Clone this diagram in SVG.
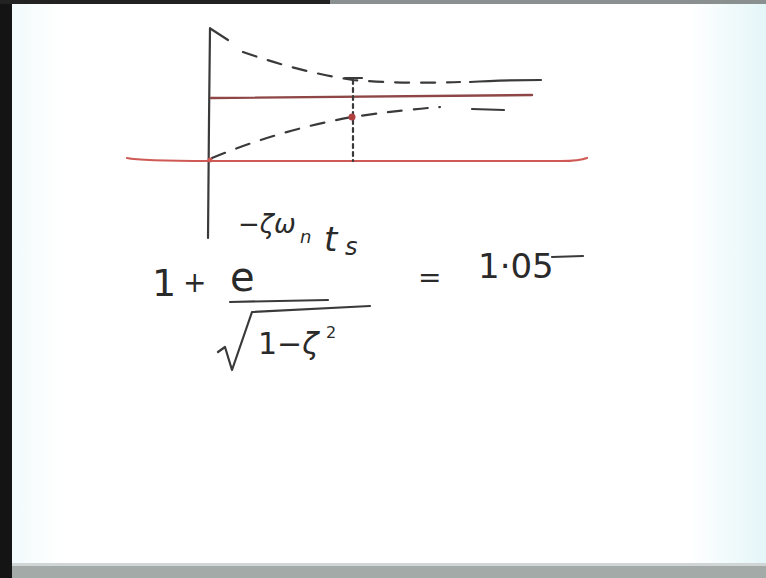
<svg xmlns="http://www.w3.org/2000/svg" width="766" height="578" viewBox="0 0 766 578">
<defs>
<linearGradient id="bg" x1="0" y1="0" x2="1" y2="0">
<stop offset="0" stop-color="#eef9fa"/>
<stop offset="0.08" stop-color="#ffffff"/>
<stop offset="0.9" stop-color="#ffffff"/>
<stop offset="1" stop-color="#e4f6f8"/>
</linearGradient>
<style>
.ink{fill:none;stroke:#3a3a3a;stroke-width:2.2;stroke-linecap:round;stroke-linejoin:round}
.dash{stroke-dasharray:14 12}
.red{fill:none;stroke:#cf5a55;stroke-width:2.2;stroke-linecap:round}
.maroon{fill:none;stroke:#8e4646;stroke-width:2.4;stroke-linecap:round}
.hw{font-family:"DejaVu Sans","Liberation Sans",sans-serif;fill:#2a2a2a}
</style>
</defs>
<rect x="0" y="0" width="766" height="578" fill="url(#bg)"/>
<rect x="0" y="0" width="12" height="578" fill="#141414"/>
<rect x="0" y="0" width="330" height="4" fill="#222"/>
<rect x="330" y="0" width="436" height="4" fill="#8a8f90"/>
<rect x="12" y="566" width="754" height="12" fill="#a4aaa8"/>
<rect x="12" y="563" width="754" height="3" fill="#d0d6d6"/>

<g id="axes">
<path class="ink" d="M210,28 L209,120 L208,238"/>
<path class="ink" d="M211,29 L228,40"/>
<path class="red" d="M127,158 Q140,161 210,161 L560,161 Q580,161 587,158"/>
</g>
<g id="final-value">
<path class="maroon" d="M211,98 L532,95"/>
</g>
<g id="upper-envelope">
<path class="ink dash" d="M243,52 Q300,72 353,80 Q400,84 460,82"/>
<path class="ink" d="M470,82 Q500,80 541,80"/>
<path class="ink" d="M345,78 L362,78"/>
</g>
<g id="lower-envelope">
<path class="ink dash" d="M212,158 Q280,130 352,117 Q400,110 440,107"/>
<path class="ink" d="M472,109 L504,110"/>
</g>
<g id="settling-time">
<path class="ink" d="M353,80 L353,161" stroke-dasharray="4 4" stroke-width="1.8"/>
<circle cx="352" cy="117" r="3.5" fill="#b04040"/>
<circle cx="210" cy="160" r="2.5" fill="#cf5a55"/>
</g>

<g id="equation">
<text class="hw" x="152" y="296" font-size="38">1</text>
<text class="hw" x="183" y="292" font-size="28">+</text>
<text class="hw" x="230" y="291" font-size="40">e</text>
<text class="hw" x="238" y="233" font-size="26" font-style="italic">−ζω</text>
<text class="hw" x="300" y="243" font-size="18" font-style="italic">n</text>
<text class="hw" x="324" y="251" font-size="34" font-style="italic">t</text>
<text class="hw" x="345" y="255" font-size="24" font-style="italic">s</text>
<path class="ink" d="M230,302 L328,300" stroke-width="3"/>
<path class="ink" d="M218,352 L225,347 L232,370 L252,312 L370,306" stroke-width="2.6"/>
<text class="hw" x="258" y="354" font-size="30">1−<tspan font-style="italic">ζ</tspan></text>
<text class="hw" x="326" y="338" font-size="16">2</text>
<text class="hw" x="418" y="287" font-size="28">=</text>
<text class="hw" x="478" y="278" font-size="34">1·05</text>
<path class="ink" d="M552,257 L583,256" stroke-width="3"/>
</g>
</svg>
